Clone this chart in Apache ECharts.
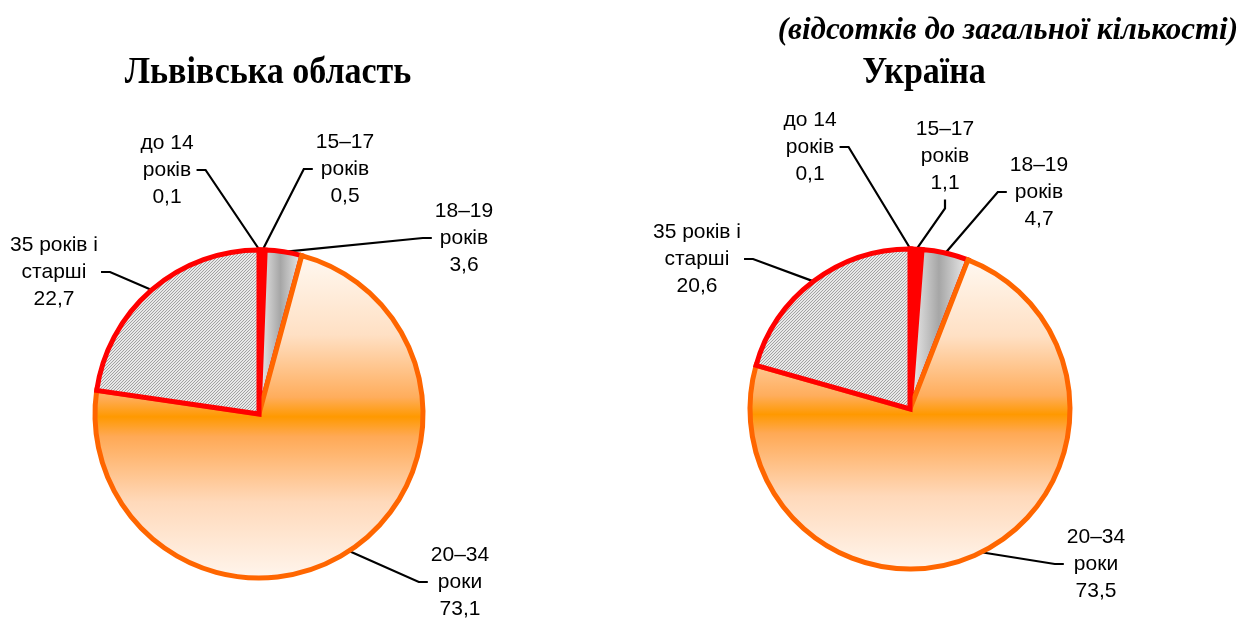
<!DOCTYPE html>
<html><head><meta charset="utf-8">
<script src="https://cdn.jsdelivr.net/npm/echarts@6/dist/echarts.min.js"></script>
<style>html,body{margin:0;padding:0;background:#fff}#c{width:1244px;height:619px}</style>
</head><body><div id="c"></div>
<script>
// ---- data ----
const categories = ['до 14 років', '15–17 років', '18–19 років', '20–34 роки', '35 років і старші'];
const labelNames = ['до 14\nроків', '15–17\nроків', '18–19\nроків', '20–34\nроки', '35 років і\nстарші'];
const lvivValues = [0.1, 0.5, 3.6, 73.1, 22.7];
const ukraineValues = [0.1, 1.1, 4.7, 73.5, 20.6];
const chartTitles = ['Львівська область', 'Україна'];
const unitNote = '(відсотків до загальної кількості)';

// ---- layout (label anchor positions & tick side) ----
const labelPos = [
  [[167, 170, 'right'], [345, 169, 'left'], [464, 238, 'left'], [460, 582, 'left'], [54, 272, 'right']],
  [[810, 147, 'right'], [945, 156, 'bottom'], [1039, 192, 'left'], [1096, 564, 'left'], [697, 259, 'right']]
];
const pies = [
  {center: [259, 414], radius: 164},
  {center: [910, 409], radius: 160}
];

// hatch pattern
const hatch = document.createElement('canvas');
hatch.width = 3; hatch.height = 3;
(function () {
  const g = hatch.getContext('2d');
  g.fillStyle = '#e8e8e8'; g.fillRect(0, 0, 3, 3);
  g.fillStyle = '#a2a2a2';
  for (let i = 0; i < 3; i++) g.fillRect(i, 2 - i, 1, 1);
})();

function sliceStyle(i) {
  const red = '#ff0000';
  if (i === 0 || i === 1) return {color: red, borderColor: red};
  if (i === 2) return {
    color: new echarts.graphic.LinearGradient(0, 0, 1, 0, [
      {offset: 0, color: '#f4f4f4'}, {offset: 0.5, color: '#a6a6a6'}, {offset: 1, color: '#f2f2f2'}]),
    borderColor: red
  };
  if (i === 3) return {
    color: new echarts.graphic.LinearGradient(0, 0, 0, 1, [
      {offset: 0, color: '#fff9f2'}, {offset: 0.25, color: '#ffe0c4'}, {offset: 0.44, color: '#ffad5c'},
      {offset: 0.5, color: '#ff9900'}, {offset: 0.56, color: '#ffa955'}, {offset: 0.76, color: '#ffd9ba'},
      {offset: 1, color: '#fff6ee'}]),
    borderColor: '#ff6600'
  };
  return {color: {image: hatch, repeat: 'repeat'}, borderColor: red};
}

function fmt(v) { return v.toFixed(1).replace('.', ','); }

function makeSeries(si, values) {
  return {
    type: 'pie',
    center: pies[si].center,
    radius: pies[si].radius,
    startAngle: 90,
    clockwise: true,
    avoidLabelOverlap: false,
    animation: false,
    silent: true,
    data: values.map((v, i) => ({
      name: categories[i],
      value: v,
      itemStyle: Object.assign({borderWidth: 5, borderJoin: 'miter'}, sliceStyle(i))
    })),
    label: {
      show: true,
      position: 'outside',
      formatter: p => labelNames[p.dataIndex] + '\n' + fmt(p.value),
      fontFamily: 'Liberation Sans',
      fontSize: 21,
      lineHeight: 27,
      color: '#000',
      align: 'center'
    },
    labelLine: {show: true, length: 10, length2: 10, lineStyle: {color: '#000', width: 2.2}},
    labelLayout: function (p) {
      const cfg = labelPos[si][p.dataIndex];
      const w = p.labelRect.width, h = p.labelRect.height;
      const x = cfg[0], y = cfg[1];
      const anchor = p.labelLinePoints ? p.labelLinePoints[0] : [x, y];
      const gap = 3, len = 9;
      let p0, p1;
      if (cfg[2] === 'right') { p0 = [x + w / 2 + gap, y]; p1 = [p0[0] + len, y]; }
      else if (cfg[2] === 'left') { p0 = [x - w / 2 - gap, y]; p1 = [p0[0] - len, y]; }
      else { p0 = [x, y + h / 2 + gap]; p1 = [x, p0[1] + len]; }
      return {x: x, y: y, align: 'center', verticalAlign: 'middle', labelLinePoints: [anchor, p1, p0]};
    }
  };
}

const chart = echarts.init(document.getElementById('c'));
chart.setOption({
  backgroundColor: '#fff',
  animation: false,
  graphic: [
    {type: 'text', x: 1238, y: 31, style: {text: unitNote, font: 'italic bold 31px "Liberation Serif"', fill: '#000', textAlign: 'right', textVerticalAlign: 'middle'}},
    {type: 'text', x: 268, y: 73, scaleY: 1.12, style: {text: chartTitles[0], font: 'bold 34px "Liberation Serif"', fill: '#000', textAlign: 'center', textVerticalAlign: 'middle'}},
    {type: 'text', x: 924, y: 73, scaleY: 1.12, style: {text: chartTitles[1], font: 'bold 34px "Liberation Serif"', fill: '#000', textAlign: 'center', textVerticalAlign: 'middle'}}
  ],
  series: [makeSeries(0, lvivValues), makeSeries(1, ukraineValues)]
});
</script></body></html>
